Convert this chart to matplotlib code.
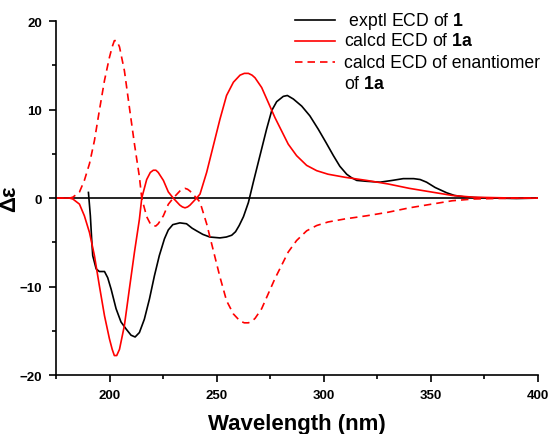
import numpy as np
import matplotlib
matplotlib.use("Agg")
import matplotlib.pyplot as plt
from matplotlib.ticker import MultipleLocator

plt.rcParams['font.family'] = ['Liberation Sans', 'DejaVu Sans']
plt.rcParams['mathtext.fontset'] = 'custom'
plt.rcParams['mathtext.rm'] = 'Liberation Sans'
plt.rcParams['mathtext.bf'] = 'Liberation Sans:bold'

# experimental ECD of 1
exp_wl = [190.1, 191.0, 191.6, 192.1, 193.7, 195.2, 197.6, 199.1, 200.7, 203.0, 205.3,
          207.7, 210.0, 211.9, 213.9, 216.2, 218.6, 220.9, 223.2, 225.6, 227.4, 229.5,
          232.8, 235.9, 238.5, 240.6, 243.5, 246.8, 251.5, 254.5, 257.0, 258.8, 260.5,
          262.5, 264.8, 267.1, 270.2, 273.3, 275.7, 278.0, 281.1, 283.0, 285.8, 289.7,
          293.5, 297.4, 301.0, 304.5, 307.5, 310.7, 313.0, 315.4, 320.0, 326.3, 332.0,
          337.1, 342.0, 345.0, 348.0, 352.0, 357.4, 361.0, 365.2, 372.0, 380.0, 390.0,
          400.0]
exp_de = [0.64, -2.0, -4.6, -6.5, -8.0, -8.3, -8.3, -9.0, -10.3, -12.5, -14.0,
          -14.8, -15.5, -15.7, -15.2, -13.7, -11.4, -8.8, -6.5, -4.6, -3.6, -3.0,
          -2.8, -2.9, -3.4, -3.7, -4.1, -4.4, -4.5, -4.4, -4.2, -3.8, -3.1,
          -2.1, -0.5, 1.8, 4.8, 7.8, 9.9, 10.9, 11.5, 11.6, 11.2, 10.4,
          9.3, 7.8, 6.3, 4.8, 3.6, 2.7, 2.3, 2.0, 1.9, 1.8, 2.0,
          2.2, 2.2, 2.1, 1.8, 1.2, 0.6, 0.3, 0.15, 0.05, 0.0, -0.05,
          0.0]

# calculated ECD of 1a
calc_wl = [175.0, 181.2, 182.8, 185.9, 188.2, 190.6, 192.9, 195.2, 197.6, 199.9, 201.2,
           202.2, 203.3, 204.6, 206.9, 209.2, 211.6, 213.9, 215.0, 217.3, 219.0, 220.4,
           221.6, 222.7, 225.1, 227.4, 229.7, 232.8, 234.0, 235.2, 236.4, 237.5, 240.6,
           242.2, 245.3, 248.4, 251.5, 254.6, 257.8, 260.9, 262.9, 264.8, 266.5, 267.9,
           271.0, 274.1, 277.2, 280.3, 283.4, 287.3, 292.0, 296.7, 302.0, 310.0, 320.0,
           330.0, 340.0, 350.0, 360.0, 370.0, 380.0, 390.0, 400.0]
calc_de = [0.0, 0.0, -0.1, -0.68, -2.0, -3.9, -6.5, -9.9, -13.3, -15.9, -17.1,
           -17.8, -17.8, -17.1, -14.4, -10.3, -6.1, -2.4, 0.0, 2.1, 2.9, 3.15,
           3.15, 2.9, 2.0, 0.7, 0.0, -0.8, -1.0, -1.1, -1.0, -0.8, 0.0,
           0.45, 2.9, 5.9, 8.9, 11.6, 13.1, 13.9, 14.1, 14.1, 13.9, 13.6,
           12.5, 10.8, 9.1, 7.6, 6.1, 4.8, 3.7, 3.1, 2.7, 2.35, 2.0,
           1.6, 1.1, 0.7, 0.3, 0.1, 0.05, 0.0, 0.0]

# calculated ECD of the enantiomer of 1a
enan_de = [0.0, 0.0, 0.1, 0.68, 2.0, 3.9, 6.5, 9.9, 13.3, 15.9, 17.1,
           17.8, 17.8, 17.1, 14.4, 10.3, 6.1, 2.4, 0.0, -2.1, -2.9, -3.15,
           -3.15, -2.9, -2.0, -0.7, 0.0, 0.8, 1.0, 1.1, 1.0, 0.8, 0.0,
           -0.45, -2.9, -5.9, -8.9, -11.6, -13.1, -13.9, -14.1, -14.1, -13.9, -13.6,
           -12.5, -10.8, -9.1, -7.6, -6.1, -4.8, -3.7, -3.1, -2.7, -2.35, -2.0,
           -1.6, -1.1, -0.7, -0.3, -0.1, -0.05, 0.0, 0.0]

legend_labels = [r' exptl ECD of $\mathbf{1}$', r'calcd ECD of $\mathbf{1a}$',
                 'calcd ECD of enantiomer', r'of $\mathbf{1a}$']

fig = plt.figure(figsize=(5.5, 4.35), dpi=100)
ax = fig.add_axes([0.102, 0.1356, 0.876, 0.8134])

ax.axhline(0, color='black', lw=1.2)
ax.plot(exp_wl, exp_de, color='black', lw=1.2)
ax.plot(calc_wl, calc_de, color='red', lw=1.2)
ax.plot(calc_wl, enan_de, color='red', lw=1.2, ls=(0, (4.5, 3)))

ax.set_xlim(175, 400)
ax.set_ylim(-20, 20)
ax.xaxis.set_minor_locator(MultipleLocator(25))
ax.yaxis.set_major_locator(MultipleLocator(10))
ax.yaxis.set_minor_locator(MultipleLocator(5))
ax.set_xticks([200, 250, 300, 350, 400])
ax.tick_params(which='major', length=5, width=1.2, labelsize=9.5, pad=5)
ax.tick_params(which='minor', length=3, width=1.2)
for lbl in ax.get_xticklabels() + ax.get_yticklabels():
    lbl.set_fontweight('bold')
ax.spines['top'].set_visible(False)
ax.spines['right'].set_visible(False)
ax.spines['left'].set_linewidth(1.2)
ax.spines['bottom'].set_linewidth(1.2)

ax.set_xlabel('Wavelength (nm)', fontsize=16, fontweight='bold', labelpad=9)
ax.set_ylabel('Δε', fontsize=16, fontweight='bold')
ax.yaxis.set_label_coords(-0.075, 0.5)

# hand-made legend so the wrapped last entry lines up like the original
rows_y = [1.003, 0.944, 0.884, 0.825]
styles = [('black', '-'), ('red', '-'), ('red', (0, (4.5, 3))), None]
for y, st, txt in zip(rows_y, styles, legend_labels):
    if st is not None:
        ax.plot([0.496, 0.579], [y, y], transform=ax.transAxes, color=st[0],
                ls=st[1], lw=1.2, clip_on=False)
    ax.text(0.598, y, txt, transform=ax.transAxes, fontsize=12.7, va='center',
            ha='left')

plt.savefig("out.png", dpi=100)
